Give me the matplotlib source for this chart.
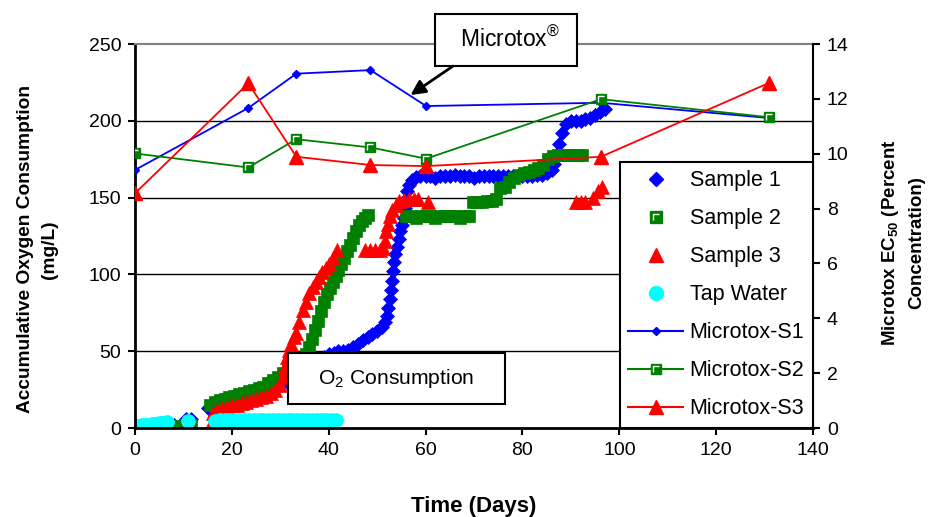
import matplotlib

matplotlib.use("Agg")

import matplotlib.pyplot as plt
from matplotlib.legend_handler import HandlerTuple
from matplotlib.lines import Line2D
from matplotlib.patches import Rectangle
from matplotlib.path import Path


OUTPUT_PATH = "out.png"

# accumulative oxygen consumption (mg/L)
S1_DAYS = [0, 1, 2, 3, 4, 5, 6, 7, 8, 10.5, 11.5, 15, 16, 17, 18, 20, 22, 24, 26, 28, 30, 31.5,
           33, 34.5, 36, 37.5, 39, 40, 41, 42, 43, 44, 45, 46, 47, 48, 49, 50, 51,
           51.6, 52, 52.3, 52.6, 52.8, 53, 53.2, 53.4, 53.7, 54, 54.4, 54.8, 55.2, 55.5, 55.8,
           56, 56.2, 56.6, 57.2, 58, 58.8,
           60, 61, 62, 63, 64, 65, 66, 67, 68, 69, 70, 71, 72, 73, 74, 75, 76, 77, 78, 79, 80, 81,
           82, 83, 84, 85, 86, 86.5, 87, 87.5, 88.2, 89, 90, 91, 92, 93, 94, 95, 96, 97]
S1_VALS = [0, 0.5, 1, 1, 1.5, 1.5, 2, 2, 2, 6, 6, 13, 15, 17, 18, 20, 21, 22, 24, 26, 28, 29,
           31, 34, 38, 42, 46, 48, 49, 50, 50, 51, 53, 55, 57, 59, 61, 63, 66,
           69, 73, 78, 84, 90, 96, 102, 108, 113, 118, 123, 128, 132, 137, 143,
           149, 154, 158, 161.5, 163.5, 164,
           164, 164, 163, 164, 164, 164, 165, 164, 164, 164, 163, 164, 164, 164, 164, 164, 164, 164,
           164, 164, 164, 164,
           164, 165, 165, 166, 168, 172, 178, 185, 192, 198, 200, 200, 200, 201, 202, 204, 206, 208]

S2_DAYS = [0, 1, 2, 3, 4, 5, 6, 7, 8, 10.5, 11.5,
           15.5, 16.5, 17.5, 18.5, 19.5, 20.5, 21.5, 22.5, 23.5, 24.5, 25.5, 26.5, 27.5, 28.5,
           29.5, 30.5, 31.5, 32.5, 33.5, 34.5, 35.3,
           36, 36.6, 37.2, 37.8, 38.4, 39, 39.6, 40.2, 40.8, 41.4, 42, 42.6, 43.2, 43.8, 44.4,
           45, 45.6, 46.2, 46.8, 47.4, 48,
           56, 57, 58, 59, 60, 61, 62, 63, 64, 65, 66, 67, 68, 69,
           69.8, 70.7, 71.7, 72.7, 73.7, 74.6,
           75.4, 76.3, 77.3, 78.3, 79.3, 80.3, 81.3, 82.3, 83.3, 84.3, 85.3, 86.3, 87.3, 88.3,
           89.3, 90.3, 91.3, 92.2]
S2_VALS = [0, 0, 1, 1, 1, 1, 1.5, 1.5, 1.5, 2, 2,
           15, 17, 18, 19, 20, 21, 22, 23, 24, 25, 26, 27, 29, 31,
           33, 36, 38, 40, 43, 45, 48,
           53, 58, 64, 70, 76, 82, 87, 91, 95, 99, 103, 107, 111, 115, 119,
           124, 128, 132, 135, 137, 139,
           138, 138, 137, 138, 138, 138, 137, 138, 138, 138, 138, 137, 138, 138,
           147, 147, 147, 148, 148, 149,
           156, 157, 160, 163, 165, 166, 167, 168, 169, 171, 175, 177, 178, 178,
           178, 178, 178, 178]

S3_DAYS = [0, 1, 2, 3, 4, 5, 6, 7, 7.5, 10.5, 11.5, 15.5,
           16, 17, 18, 19, 20, 21, 22, 23, 24, 25, 26, 27, 28, 29, 30,
           30.5, 31, 31.4, 31.8, 32.3, 32.8, 33.3, 33.9, 34.6, 35.3, 36, 36.7, 37.4, 38,
           38.7, 39.4, 40.1, 40.9, 41.8,
           47.5, 48.5, 49.5, 50.5, 51.3, 51.6, 51.9, 52.2, 52.6, 53.1, 53.8, 54.6, 55.5,
           56.5, 57.5, 58.5, 60.4,
           91, 92, 93, 94.5, 95.6, 96.5]
S3_VALS = [0, 0, 0, 0, 0, 0, 0, 0, 0, 1, 1, 1,
           10, 12, 13, 14, 15, 15, 16, 17, 18, 19, 20, 21, 23, 25, 28,
           33, 40, 46, 51, 55, 59, 62, 69, 77, 82, 88, 92, 95, 98.5,
           101.5, 104.5, 107, 111, 116,
           116, 116, 116, 116, 117, 122, 128, 133, 138, 142, 145, 147.5, 148.5,
           149, 149, 149, 147,
           147, 147, 147, 150, 154, 157]

TAP_DAYS = [0, 0.5, 1, 1.5, 2, 2.5, 3, 3.5, 4, 4.5, 5, 5.5, 6, 6.5, 11,
            16.5, 17.5, 18.5, 19.5, 20.5, 21.5, 22.5, 23.5, 24.5, 25.5, 26.5, 27.5, 28.5,
            29.5, 30.5, 31.5, 32.5, 33.5, 34.5, 35.5, 36.5, 37.5, 38.5, 39.5, 40.5, 41.5]
TAP_VALS = [1.5, 1.5, 1.5, 2, 2, 2, 2, 2.5, 2.5, 2.5, 3, 3, 3.5, 4, 4.5,
            4.5, 5, 5, 5, 5, 5, 5, 5, 5, 5, 5, 5, 5,
            5, 5, 5, 5, 5, 5, 5, 5, 5, 5, 5, 5, 5]

# Microtox EC50 (percent concentration)
MICROTOX_DAYS = [0, 23.4, 33.3, 48.6, 60.1, 96.2, 131]
MICROTOX_S1 = [9.41, 11.67, 12.92, 13.05, 11.74, 11.86, 11.30]
MICROTOX_S2 = [10.01, 9.50, 10.53, 10.23, 9.82, 11.99, 11.33]
MICROTOX_S3 = [8.56, 12.57, 9.89, 9.59, 9.55, 9.89, 12.59]

X_TICKS = [0, 20, 40, 60, 80, 100, 120, 140]
Y_TICKS = [0, 50, 100, 150, 200, 250]
Y2_TICKS = [0, 2, 4, 6, 8, 10, 12, 14]

BLUE = "#0000FF"
GREEN = "#008000"
RED = "#FF0000"
CYAN = "#00FFFF"

# white corner drawn inside the green squares, as Excel does
CORNER = Path([(-1, -1), (-1, 1), (1, 1)], [Path.MOVETO, Path.LINETO, Path.LINETO])


def plot_chart() -> None:
    plt.rcParams.update({
        "font.family": ["Liberation Sans", "DejaVu Sans"],
        "mathtext.fontset": "custom",
        "mathtext.rm": "Liberation Sans",
        "mathtext.it": "Liberation Sans:italic",
        "mathtext.bf": "Liberation Sans:bold",
        "font.size": 14,
    })

    fig = plt.figure(figsize=(9.32, 5.17), dpi=100)
    ax = fig.add_axes([0.1449, 0.1721, 0.7275, 0.7427])
    ax2 = ax.twinx()

    # oxygen consumption samples
    ax.plot(S1_DAYS, S1_VALS, ls="none", marker="D", ms=7.5, color=BLUE, mew=0.5)
    ax.plot(S2_DAYS, S2_VALS, ls="none", marker="s", ms=8.5, color=GREEN, mew=0.5)
    ax.plot(S3_DAYS, S3_VALS, ls="none", marker="^", ms=10.5, color=RED, mew=0.5)
    ax.plot(TAP_DAYS, TAP_VALS, ls="none", marker="o", ms=10, color=CYAN, mew=0.5)

    for y in Y_TICKS[1:-1]:
        ax.axhline(y, color="black", lw=1, zorder=0.5)

    ax.set_xlim(X_TICKS[0], X_TICKS[-1])
    ax.set_ylim(Y_TICKS[0], Y_TICKS[-1])
    ax.set_xticks(X_TICKS)
    ax.set_yticks(Y_TICKS)

    # microtox lines on the right axis
    ax2.plot(MICROTOX_DAYS, MICROTOX_S1, color=BLUE, lw=1.3, marker="D", ms=4.5)
    ax2.plot(MICROTOX_DAYS, MICROTOX_S2, color=GREEN, lw=1.3, marker="s", ms=7.5)
    ax2.plot(MICROTOX_DAYS, MICROTOX_S2, ls="none", marker=CORNER, ms=4,
             mfc="none", mec="white", mew=1)
    ax2.plot(MICROTOX_DAYS, MICROTOX_S3, color=RED, lw=1.3, marker="^", ms=10)
    ax2.set_ylim(Y2_TICKS[0], Y2_TICKS[-1])
    ax2.set_yticks(Y2_TICKS)

    for a in (ax, ax2):
        a.tick_params(direction="out", length=5, width=1.5, labelsize=14, pad=5)
    ax.spines["left"].set_linewidth(2)
    ax.spines["bottom"].set_linewidth(2)
    ax.spines["top"].set_color("#808080")
    ax.spines["top"].set_linewidth(1.5)
    ax.spines["right"].set_visible(False)
    ax2.spines[["top", "left", "bottom"]].set_visible(False)
    ax2.spines["right"].set_linewidth(1.5)

    ax.set_xlabel("Time (Days)", fontweight="bold", fontsize=16, labelpad=27)
    ax.set_ylabel("Accumulative Oxygen Consumption\n(mg/L)", fontweight="bold",
                  fontsize=13.8, linespacing=1.5)
    ax.yaxis.set_label_coords(-0.114, 0.465)
    ax2.set_ylabel("Microtox EC$_{\\mathbf{50}}$ (Percent\nConcentration)", fontweight="bold",
                   fontsize=13.5, linespacing=1.58, rotation=90)
    ax2.yaxis.set_label_coords(1.098, 0.484)

    # annotation boxes
    ax2.add_patch(Rectangle((0.2257, 0.0625), 0.32, 0.1328, transform=ax2.transAxes,
                            facecolor="white", edgecolor="black", lw=1.5, zorder=6))
    ax2.text(0.385, 0.128, "O$_2$ Consumption", transform=ax2.transAxes,
             ha="center", va="center", fontsize=15.2, zorder=7)

    ax2.add_patch(Rectangle((0.443, 0.9427), 0.2094, 0.1354, transform=ax2.transAxes,
                            facecolor="white", edgecolor="black", lw=1.5, zorder=6,
                            clip_on=False))
    ax2.text(0.553, 1.012, "Microtox$^{®}$", transform=ax2.transAxes,
             ha="center", va="center", fontsize=16.5, zorder=7, clip_on=False)
    ax2.annotate("", xy=(0.4063, 0.8672), xytext=(0.4690, 0.9427),
                 xycoords="axes fraction", textcoords="axes fraction",
                 arrowprops=dict(arrowstyle="-|>", color="black", lw=2,
                                 mutation_scale=22, shrinkA=0, shrinkB=0),
                 zorder=7)

    # legend
    s2_corner = Line2D([], [], ls="none", marker=CORNER, ms=4, mfc="none", mec="white", mew=1)
    handles = [
        Line2D([], [], ls="none", marker="D", ms=7, color=BLUE),
        (Line2D([], [], ls="none", marker="s", ms=8, color=GREEN), s2_corner),
        Line2D([], [], ls="none", marker="^", ms=10.5, color=RED),
        Line2D([], [], ls="none", marker="o", ms=10, color=CYAN),
        Line2D([], [], color=BLUE, lw=1.5, marker="D", ms=4.5),
        (Line2D([], [], color=GREEN, lw=1.5, marker="s", ms=7.5), s2_corner),
        Line2D([], [], color=RED, lw=1.5, marker="^", ms=10),
    ]
    labels = ["Sample 1", "Sample 2", "Sample 3", "Tap Water",
              "Microtox-S1", "Microtox-S2", "Microtox-S3"]
    leg = ax2.legend(handles, labels, loc="lower right", bbox_to_anchor=(1, 0),
                     borderaxespad=0, fancybox=False, edgecolor="black", framealpha=1,
                     fontsize=15.5, handlelength=2.55, handletextpad=0.3, labelspacing=0.79,
                     borderpad=0.4, handler_map={tuple: HandlerTuple(ndivide=1, pad=0)})
    leg.get_frame().set_linewidth(1.5)
    leg.set_zorder(8)

    fig.savefig(OUTPUT_PATH, dpi=100, facecolor="white")
    plt.close(fig)


def main() -> None:
    for days, vals in [(S1_DAYS, S1_VALS), (S2_DAYS, S2_VALS), (S3_DAYS, S3_VALS),
                       (TAP_DAYS, TAP_VALS)]:
        assert len(days) == len(vals), (len(days), len(vals))
    plot_chart()


if __name__ == "__main__":
    main()
